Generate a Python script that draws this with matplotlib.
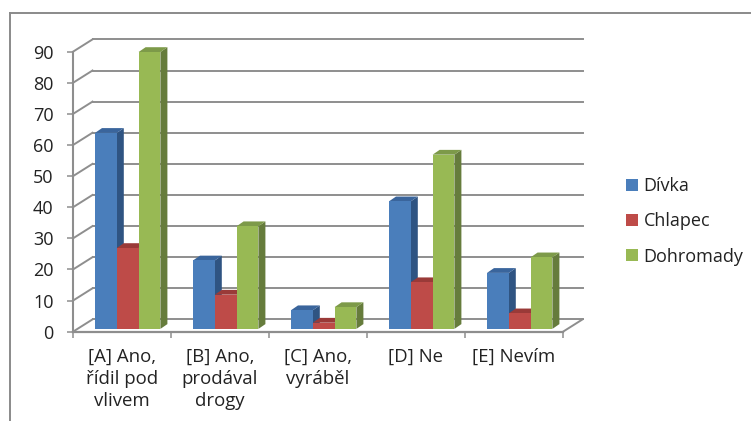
import numpy as np
import matplotlib
matplotlib.use("Agg")
import matplotlib.pyplot as plt
from matplotlib.patches import Polygon

plt.rcParams['font.family'] = ['Open Sans', 'DejaVu Sans']

categories = ["[A] Ano,\nřídil pod\nvlivem", "[B] Ano,\nprodával\ndrogy",
              "[C] Ano,\nvyráběl", "[D] Ne", "[E] Nevím"]
divka = [63, 22, 6, 41, 18]
chlapec = [26, 11, 2, 15, 5]
dohromady = [89, 33, 7, 56, 23]
y_ticks = [0, 10, 20, 30, 40, 50, 60, 70, 80, 90]

W, H = 751, 421
fig = plt.figure(figsize=(W / 100, H / 100), dpi=100)
ax = fig.add_axes([73 / W, (H - 331.7) / H, 490 / W, 280 / H])
ax.set_xlim(0, 5)
ax.set_ylim(0, 90)

# pixel sizes turned into axis units
px_x = 5 / 490
px_y = 90 / 280
wall_dx, wall_dy = 19.5 * px_x, 12.3 * px_y
bar_dx, bar_dy = 7 * px_x, 4.8 * px_y
lift = 2.8 * px_y
bar_w = 21.8 * px_x
first = 22 * px_x

grid_c = "#8e8e8e"
for v in y_ticks:
    ax.plot([wall_dx, 5 + wall_dx], [v + wall_dy, v + wall_dy], color=grid_c, lw=1.4,
            clip_on=False, zorder=1)
    ax.plot([0, wall_dx], [v, v + wall_dy], color=grid_c, lw=1.4, clip_on=False, zorder=1)
# floor edges
ax.plot([0, 5], [0, 0], color=grid_c, lw=1.6, clip_on=False, zorder=1)
ax.plot([5, 5 + wall_dx], [0, wall_dy], color=grid_c, lw=1.4, clip_on=False, zorder=1)
ax.plot([0, 0], [0, 90], color=grid_c, lw=1.5, clip_on=False, zorder=1)

series = [
    ("Dívka", divka, "#4a7ebb", "#2f5482", "#3a659c"),
    ("Chlapec", chlapec, "#be4b48", "#8c3836", "#9a3a38"),
    ("Dohromady", dohromady, "#98b954", "#667c3c", "#7d9a49"),
]
z = 3
for j, (name, vals, front, side, top) in enumerate(series):
    xs = np.arange(5) + first + j * bar_w
    ax.bar(xs, vals, bar_w, bottom=lift, align="edge", color=front, label=name, zorder=z + 2,
           clip_on=False)
    for x0, v in zip(xs, vals):
        x1 = x0 + bar_w
        t = v + lift
        ax.add_patch(Polygon([(x1, lift), (x1 + bar_dx, lift + bar_dy), (x1 + bar_dx, t + bar_dy), (x1, t)],
                             color=side, lw=0, zorder=z, clip_on=False))
        ax.add_patch(Polygon([(x0, t), (x0 + bar_dx, t + bar_dy), (x1 + bar_dx, t + bar_dy), (x1, t)],
                             color=top, lw=0, zorder=z, clip_on=False))
    z += 3

for s in ax.spines.values():
    s.set_visible(False)
ax.patch.set_visible(False)

ax.set_yticks(y_ticks)
ax.tick_params(axis="y", length=4.5, width=1.1, color=grid_c, pad=9.5, labelsize=13, labelcolor="#222222")
ax.set_xticks(range(6))
ax.set_xticklabels([])
ax.set_xticks(np.arange(5) + 0.5, minor=True)
ax.set_xticklabels(categories, minor=True, fontsize=13.4, color="#222222", linespacing=1.29)
ax.tick_params(axis="x", which="major", length=4, width=1.1, color=grid_c)
ax.tick_params(axis="x", which="minor", length=0, pad=11.5)

fig.legend(loc="center left", bbox_to_anchor=(626 / W, (H - 221.5) / H), frameon=False, fontsize=13,
           handlelength=0.67, handleheight=0.67, handletextpad=0.3, labelspacing=0.95,
           labelcolor="#222222", borderpad=0, borderaxespad=0)

# outer frame, open at the right and bottom
frame = "#8a8a8a"
fig.add_artist(plt.Line2D([10 / W, 10 / W], [0, (H - 13) / H], color=frame, lw=1.4))
fig.add_artist(plt.Line2D([10 / W, 1], [(H - 13) / H, (H - 13) / H], color=frame, lw=1.4))

fig.savefig("out.png", dpi=100)
